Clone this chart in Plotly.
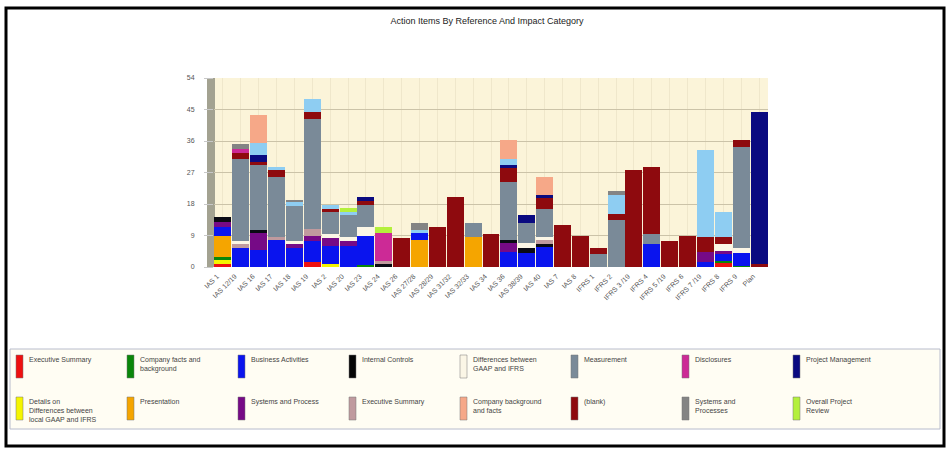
import plotly.graph_objects as go

categories = ["IAS 1", "IAS 12/19", "IAS 16", "IAS 17", "IAS 18", "IAS 19", "IAS 2", "IAS 20",
              "IAS 23", "IAS 24", "IAS 26", "IAS 27/28", "IAS 28/29", "IAS 31/32", "IAS 32/33",
              "IAS 34", "IAS 36", "IAS 38/39", "IAS 40", "IAS 7", "IAS 8", "IFRS 1", "IFRS 2",
              "IFRS 3 /19", "IFRS 4", "IFRS 5 /19", "IFRS 6", "IFRS 7 /19", "IFRS 8", "IFRS 9", "Plan"]

exec_summary = [1, 0, 0, 0, 0, 1.4, 0, 0, 0, 0, 0, 0, 0, 0, 0, 0, 0, 0, 0, 0, 0, 0, 0, 0, 0, 0, 0, 0, 1.4, 0, 0]
details_diff = [1, 0, 0, 0, 0, 0, 1, 0, 0, 0, 0, 0, 0, 0, 0, 0, 0, 0, 0, 0, 0, 0, 0, 0, 0, 0, 0, 0, 0, 0, 0]
company_facts = [1, 0, 0, 0, 0, 0, 0, 0, 0.7, 0, 0, 0, 0, 0, 0, 0, 0, 0, 0, 0, 0, 0, 0, 0, 0, 0, 0, 0, 0.4, 0.4, 0]
presentation = [6, 0, 0, 0, 0, 0, 0, 0, 0, 0, 0, 7.7, 0, 0, 8.6, 0, 0, 0, 0, 0, 0, 0, 0, 0, 0, 0, 0, 0, 0, 0, 0]
business = [2.5, 5.5, 4.8, 7.7, 5.5, 6, 5, 6, 8.3, 0, 0, 2, 0, 0, 0, 0, 4.3, 4, 5.7, 0, 0, 0, 0, 0, 6.5, 0, 0, 1.5, 2, 3.6, 0]
systems_process = [1.5, 0, 4.8, 0, 1, 1.5, 2.4, 1.5, 0, 0, 0, 0, 0, 0, 0, 0, 2.8, 0, 0, 0, 0, 0, 0, 0, 0, 0, 0, 2.8, 0.9, 0, 0]
internal_controls = [1.2, 0, 0.9, 0, 0, 0, 0, 0, 0, 1, 0, 0, 0, 0, 0, 0, 0.5, 1.4, 1, 0, 0, 0, 0, 0, 0, 0, 0, 0, 0, 0, 0]
exec_summary2 = [0, 1, 0, 0.9, 0, 2.1, 0, 0, 0, 0.8, 0, 0, 0, 0, 0, 0, 0, 0, 1, 0, 0, 0, 0, 0, 0, 0, 0, 0, 0, 0, 0]
differences = [0, 1, 0, 0, 0.8, 0, 1, 1, 2.5, 0, 0, 0, 0, 0, 0, 0, 0, 1.4, 0.8, 0, 0, 0, 0, 0, 0, 0, 0, 0, 1.9, 1.3, 0]
measurement = [0, 23.5, 18.6, 17.2, 10, 31.4, 6.2, 6.5, 6.2, 0, 0, 0, 0, 0, 3.9, 0, 16.8, 5.7, 8.2, 0, 0, 3.8, 13.3, 0, 3, 0, 0, 0, 0, 29.1, 0]
blank = [0, 1.7, 0.9, 1.8, 0, 2, 1, 0, 1.3, 0, 8.2, 0, 11.4, 20, 0, 9.3, 3.8, 0, 3, 12, 9, 1.5, 1.9, 27.7, 19.2, 7.4, 8.9, 4.3, 1.9, 1.8, 0.8]
disclosures = [0, 1, 0, 0, 0, 0, 0, 0, 0, 7.9, 0, 0, 0, 0, 0, 0, 0, 0, 0, 0, 0, 0, 0, 0, 0, 0, 0, 0, 0, 0, 0]
project_mgmt = [0, 0, 2, 0, 0, 0, 0, 0, 1, 0, 0, 0, 0, 0, 0, 0, 1, 2.4, 1, 0, 0, 0, 0, 0, 0, 0, 0, 0, 0, 0, 43.6]
unlisted = [0, 0, 3.4, 0.9, 1.4, 3.7, 1, 0.6, 0, 0, 0, 0.8, 0, 0, 0, 0, 1.8, 0, 0, 0, 0, 0, 5.3, 0, 0, 0, 0, 24.7, 7.2, 0, 0]
company_background = [0, 0, 8, 0, 0, 0, 0, 0, 0, 0, 0, 0, 0, 0, 0, 0, 5.3, 0, 5.1, 0, 0, 0, 0, 0, 0, 0, 0, 0, 0, 0, 0]
systems_processes = [0, 1.5, 0, 0, 0.4, 0, 0, 0, 0, 0, 0, 2, 0, 0, 0, 0, 0, 0, 0, 0, 0, 0, 1.2, 0, 0, 0, 0, 0, 0, 0, 0]
overall_review = [0, 0, 0, 0, 0, 0, 0, 1.4, 0, 1.8, 0, 0, 0, 0, 0, 0, 0, 0, 0, 0, 0, 0, 0, 0, 0, 0, 0, 0, 0, 0, 0]

y_ticks = [0, 9, 18, 27, 36, 45, 54]

legend_row1 = ["Executive Summary", "Company facts and<br>background", "Business Activities", "Internal Controls",
               "Differences between<br>GAAP and IFRS", "Measurement", "Disclosures", "Project Management"]
legend_row1_colors = ["#EE1010", "#0A860A", "#0A14EE", "#050505", "#FBF6E6", "#7A8A98", "#CC2A96", "#0A0A80"]
legend_row2 = ["Details on<br>Differences between<br>local GAAP and IFRS", "Presentation", "Systems and Process",
               "Executive Summary", "Company background<br>and facts", "(blank)", "Systems and<br>Processes",
               "Overall Project<br>Review"]
legend_row2_colors = ["#F5F500", "#F5A500", "#760A86", "#C09A9E", "#F6A888", "#8E0A0E", "#848484", "#B4F03C"]

stack = [
    ("Executive Summary", exec_summary, "#EE1010"),
    ("Details on Differences between local GAAP and IFRS", details_diff, "#F5F500"),
    ("Company facts and background", company_facts, "#0A860A"),
    ("Presentation", presentation, "#F5A500"),
    ("Business Activities", business, "#0A14EE"),
    ("Systems and Process", systems_process, "#760A86"),
    ("Internal Controls", internal_controls, "#0A0A14"),
    ("Executive Summary ", exec_summary2, "#C09A9E"),
    ("Differences between GAAP and IFRS", differences, "#FBF6E6"),
    ("Measurement", measurement, "#7A8A98"),
    ("(blank)", blank, "#8E0A0E"),
    ("Disclosures", disclosures, "#CC2A96"),
    ("Project Management", project_mgmt, "#0A0A80"),
    ("Other", unlisted, "#8ECDF2"),
    ("Company background and facts", company_background, "#F6A888"),
    ("Systems and Processes", systems_processes, "#848484"),
    ("Overall Project Review", overall_review, "#B4F03C"),
]

W, H = 950, 451
L, R, T, B = 214, 182, 78, 184
PW, PH = W - L - R, H - T - B


def xp(px):
    return (px - L) / PW


def yp(py):
    return (H - B - py) / PH


fig = go.Figure()
for name, vals, color in stack:
    fig.add_trace(go.Bar(x=categories, y=vals, name=name, showlegend=False,
                         marker=dict(color=color, line=dict(width=0))))

shapes = []
annotations = []

# outer frame
shapes.append(dict(type="rect", xref="paper", yref="paper", x0=xp(6), x1=xp(944), y0=yp(446), y1=yp(8),
                   line=dict(color="black", width=3), fillcolor="rgba(0,0,0,0)", layer="above"))
# left 3D wall
shapes.append(dict(type="rect", xref="paper", yref="paper", x0=xp(207), x1=xp(215), y0=0, y1=1,
                   line=dict(width=0), fillcolor="#A3A291", layer="below"))
# legend box
shapes.append(dict(type="rect", xref="paper", yref="paper", x0=xp(10), x1=xp(940), y0=yp(429), y1=yp(349),
                   line=dict(color="#B8BCCC", width=1), fillcolor="#FFFDF3", layer="below"))

for row, (names, colors, ytop) in enumerate([(legend_row1, legend_row1_colors, 355),
                                              (legend_row2, legend_row2_colors, 397)]):
    for i, (nm, col) in enumerate(zip(names, colors)):
        x0 = 16 + 111 * i
        shapes.append(dict(type="rect", xref="paper", yref="paper", x0=xp(x0), x1=xp(x0 + 7),
                           y0=yp(ytop + 23), y1=yp(ytop), line=dict(color="#777", width=0.5),
                           fillcolor=col))
        annotations.append(dict(xref="paper", yref="paper", x=xp(x0 + 11), y=yp(ytop - 1), text=nm,
                                showarrow=False, xanchor="left", yanchor="top", align="left",
                                font=dict(family="Liberation Sans, Arial, sans-serif", size=7, color="#444")))

fig.update_layout(
    width=W, height=H,
    margin=dict(l=L, r=R, t=T, b=B),
    barmode="stack", bargap=0.05,
    paper_bgcolor="white", plot_bgcolor="#FBF4D9",
    title=dict(text="Action Items By Reference And Impact Category", xref="container", yref="container",
               x=487 / W, y=1 - 21 / H, xanchor="center", yanchor="middle",
               font=dict(family="Liberation Sans, Arial, sans-serif", size=9, color="#222")),
    font=dict(family="Liberation Sans, Arial, sans-serif", size=7, color="#555"),
    xaxis=dict(type="category", tickangle=-45, tickfont=dict(size=7, color="#555"),
               ticklabelshift=-6, ticklabelstandoff=3,
               showgrid=True, gridcolor="#EFE7CB", gridwidth=1, showline=False, ticks=""),
    yaxis=dict(range=[0, 54], tickvals=y_ticks, tickfont=dict(size=7, color="#555"),
               showgrid=True, gridcolor="#CBC3A8", gridwidth=1, zeroline=False,
               ticks="outside", ticklen=9, tickcolor="#C8C8C8", ticklabelstandoff=8),
    shapes=shapes, annotations=annotations,
)

fig.write_html("out.html")
